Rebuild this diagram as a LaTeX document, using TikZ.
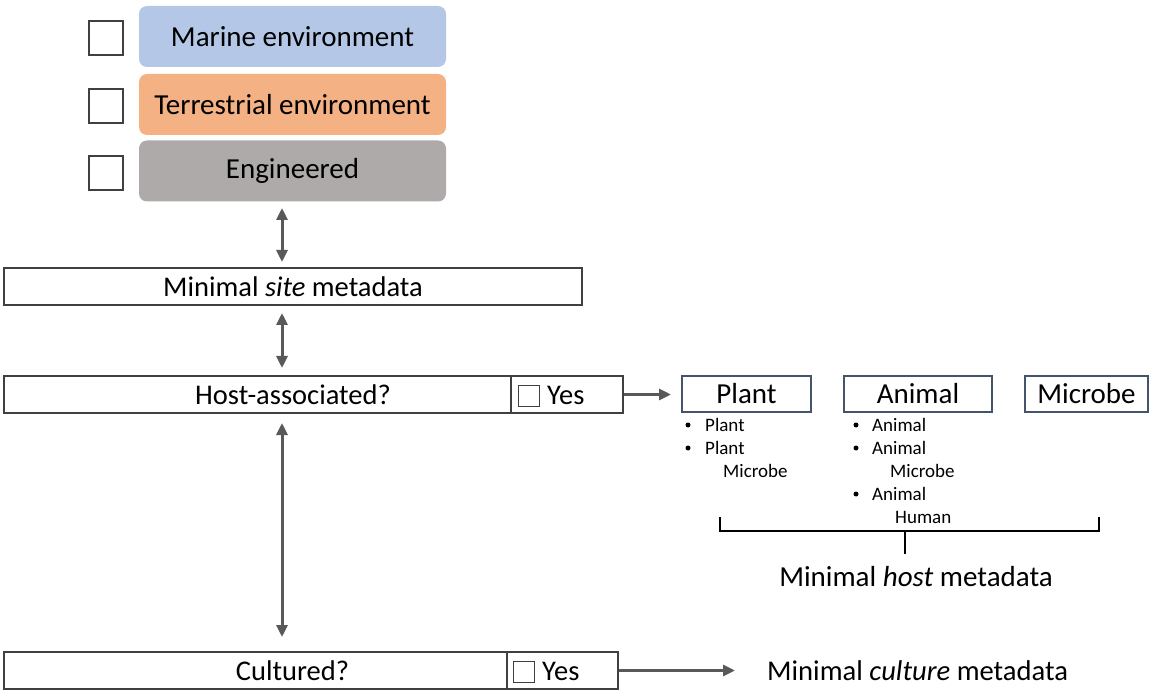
\documentclass[tikz,border=0pt]{standalone}
\usepackage{fontspec}
\setmainfont{Carlito}
\usetikzlibrary{arrows.meta}
\definecolor{marine}{HTML}{B4C7E7}
\definecolor{terr}{HTML}{F4B183}
\definecolor{engi}{HTML}{AEAAAA}
\definecolor{edge}{HTML}{404040}
\definecolor{arr}{HTML}{595959}
\definecolor{slate}{HTML}{44546A}
\begin{document}
\begin{tikzpicture}[x=1pt,y=-1pt,
  chk/.style={draw=edge,line width=2.8pt,minimum width=34pt,minimum height=34pt,inner sep=0pt},
  env/.style={rounded corners=8pt,minimum width=307pt,minimum height=61pt,inner sep=0pt,font=\fontsize{29}{34}\selectfont},
  rowbox/.style={draw=edge,line width=1.6pt,inner sep=0pt,minimum height=37pt,font=\fontsize{28.5}{33}\selectfont},
  lbl/.style={inner sep=0pt,font=\fontsize{28.5}{33}\selectfont},
  hostbox/.style={draw=slate,line width=1.6pt,inner sep=0pt,minimum height=36pt,font=\fontsize{29}{34}\selectfont},
  small/.style={font=\fontsize{19}{22}\selectfont,inner sep=0pt,anchor=west},
  dot/.style={circle,fill=black,inner sep=0pt,minimum size=5pt},
  link/.style={draw=arr,line width=3pt,-{Triangle[length=12pt,width=11pt]}},
  dlink/.style={draw=arr,line width=3pt,{Triangle[length=12pt,width=11pt]}-{Triangle[length=12pt,width=11pt]}},
  sbox/.style={draw=edge,line width=1.2pt,minimum width=21pt,minimum height=21pt,inner sep=0pt}]
\useasboundingbox (0,0) rectangle (1159,700);
% environment boxes
\node[chk] (c1) at (106,38) {};
\node[chk] (c2) at (106,106) {};
\node[chk] (c3) at (106,173) {};
\node[env,fill=marine] (marine) at (292.5,36.5) {Marine environment};
\node[env,fill=terr] (terr) at (292.5,104.5) {Terrestrial environment};
\node[env,fill=engi] (eng) at (292.5,171) {Engineered};
% site
\node[rowbox,minimum width=578pt] (site) at (293,286.5) {Minimal \textit{site} metadata};
% host
\node[rowbox,minimum width=507pt] (host) at (257.5,394.5) {};
\node[lbl] (hostt) at (293,394.5) {Host-associated?};
\node[rowbox,minimum width=112pt] (hyes) at (567,394.5) {};
\node[sbox] (hchk) at (529,396) {};
\node[lbl,anchor=west] (hyest) at (547,395) {Yes};
% culture
\node[rowbox,minimum width=503pt] (cult) at (255.5,670.5) {};
\node[lbl] (cultt) at (292.5,670.5) {Cultured?};
\node[rowbox,minimum width=111pt] (cyes) at (562.5,670.5) {};
\node[sbox] (cchk) at (524,672) {};
\node[lbl,anchor=west] (cyest) at (542,671) {Yes};
\node[font=\fontsize{28.6}{33}\selectfont,anchor=west,inner sep=0pt] (cmeta) at (767,671) {Minimal \textit{culture} metadata};
% host types
\node[hostbox,minimum width=129pt] (plant) at (746.5,394) {Plant};
\node[hostbox,minimum width=148pt] (animal) at (918,394) {Animal};
\node[hostbox,minimum width=123pt] (microbe) at (1086.5,394) {Microbe};
% lists
\node[dot] (pb1) at (688,425) {};
\node[small] (p1) at (705,425) {Plant};
\node[dot] (pb2) at (688,448) {};
\node[small] (p2) at (705,448) {Plant};
\node[small] (p3) at (723,471) {Microbe};
\node[dot] (ab1) at (856,425) {};
\node[small] (a1) at (872,425) {Animal};
\node[dot] (ab2) at (856,448) {};
\node[small] (a2) at (872,448) {Animal};
\node[small] (a3) at (890,471) {Microbe};
\node[dot] (ab3) at (856,494) {};
\node[small] (a4) at (872,494) {Animal};
\node[small] (a5) at (895,517) {Human};
% bracket
\coordinate (bl) at (720,517);
\coordinate (br) at (1099,517);
\coordinate (bm) at (905,531);
\node[font=\fontsize{29}{34}\selectfont,inner sep=0pt] (hmeta) at (916,577) {Minimal \textit{host} metadata};
\draw[line width=1.6pt] (bl) |- (br |- bm) -- (br);
\draw[line width=1.6pt] (bm) -- (bm |- 0,554);
% connectors
\coordinate (a) at (282,208);
\coordinate (b) at (282,313);
\coordinate (c) at (282,423);
\draw[dlink] (a) -- (282,262);
\draw[dlink] (b) -- (282,368);
\draw[dlink] (c) -- (282,637);
\coordinate (ht) at (671,394.5);
\draw[link] (hyes.east) -- (ht);
\coordinate (ct) at (735,670.5);
\draw[link] (cyes.east) -- (ct);
\end{tikzpicture}
\end{document}
